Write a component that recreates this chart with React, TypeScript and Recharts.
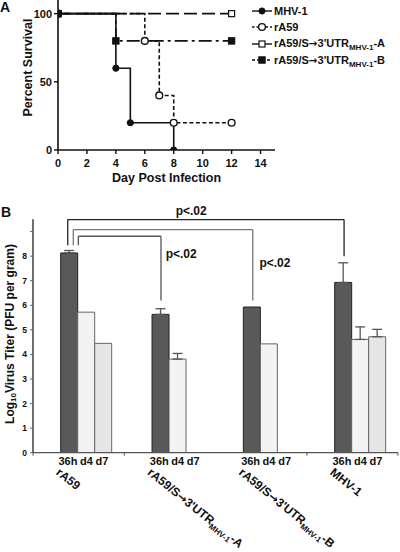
import React from 'react';
import {
  LineChart, Line, XAxis, YAxis, Legend, Label,
  BarChart, Bar, ErrorBar, ReferenceLine, ReferenceDot,
} from 'recharts';

const FONT = '"Liberation Sans", Arial, Helvetica, sans-serif';
const ARROW_FONT = '"DejaVu Sans", sans-serif';
const INK = '#111';

// ---------- Panel A: survival ----------
const dayTicks = [0, 2, 4, 6, 8, 10, 12, 14];
const percentTicks = [0, 50, 100];

const mhv1Days = [0, 4, 5, 8];
const mhv1Pct = [100, 60, 20, 0];
const rA59Days = [0, 6, 7, 8, 12];
const rA59Pct = [100, 80, 40, 20, 20];
const recADays = [0, 12];
const recAPct = [100, 100];
const recBDays = [0, 4, 12];
const recBPct = [100, 80, 80];

const seriesNames = ['MHV-1', 'rA59', "rA59/S→3'UTR_MHV-1_-A", "rA59/S→3'UTR_MHV-1_-B"];
const seriesDays = [mhv1Days, rA59Days, recADays, recBDays];
const seriesPct = [mhv1Pct, rA59Pct, recAPct, recBPct];
const seriesDash = [undefined, '4 2.5', '13 5', '13 4 3 4'];
const legendDash = [undefined, '2.5 2', undefined, '3 2'];
const seriesMarker = ['fc', 'oc', 'os', 'fs'];

const survival = seriesNames.map((name, i) => ({
  name,
  data: seriesDays[i].map((day, k) => ({ day, pct: seriesPct[i][k] })),
  dash: seriesDash[i],
  legendDash: legendDash[i],
  marker: seriesMarker[i],
}));

// ---------- Panel B: titers ----------
const groups = ['rA59', "rA59/S→3'UTR_MHV-1_-A", "rA59/S→3'UTR_MHV-1_-B", 'MHV-1'];
const timepoints = ['36h', 'd4', 'd7'];
const timepointOffsets = [-18.4, 0, 15.6];
const titer36h = [8.13, 5.63, 5.93, 6.93];
const titerD4 = [5.72, 3.81, 4.43, 4.61];
const titerD7 = [4.45, null, null, 4.72];
const err36h = [0.1, 0.23, null, 0.8];
const errD4 = [null, 0.23, null, 0.51];
const errD7 = [null, null, null, 0.3];
const log10Ticks = [0, 1, 2, 3, 4, 5, 6, 7, 8, 9];

const oneSided = (e: number | null) => (e == null ? null : [0, e]);
const titerRows = groups.map((group, i) => ({
  group,
  pos: i + 0.5,
  h36: titer36h[i],
  d4: titerD4[i],
  d7: titerD7[i],
  e36: oneSided(err36h[i]),
  e4: oneSided(errD4[i]),
  e7: oneSided(errD7[i]),
}));

// significance brackets (x in category units, y in log10 units)
const brackets = [
  { x1: 0.296, x2: 3.322, top: 9.49, end1: 8.44, end2: 8.0, color: '#222' },
  { x1: 0.357, x2: 2.322, top: 9.08, end1: 8.44, end2: 6.2, color: '#777' },
  { x1: 0.412, x2: 1.317, top: 8.81, end1: 8.44, end2: 6.2, color: '#555' },
];
const pLabels = [
  { x: 1.648, y: 9.66, text: 'p<.02' },
  { x: 2.565, y: 7.57, text: 'p<.02' },
  { x: 1.538, y: 7.91, text: 'p<.02' },
];
const boundaryTicks = [-0.084, 0.915, 2.915, 3.912];

const BAR = 17;

const splitSub = (s: string) => s.split('_');

// split a string around the arrow so the arrow can use a font with a wide glyph
const arrowParts = (s: string) => s.split(/(→)/).filter((p) => p !== '');

const SvgRun = ({ text }: { text: string }) => (
  <>
    {arrowParts(text).map((p, i) =>
      p === '→' ? (
        <tspan key={i} fontFamily={ARROW_FONT} fontSize="0.95em">{p}</tspan>
      ) : (
        <tspan key={i}>{p}</tspan>
      ),
    )}
  </>
);

const HtmlRun = ({ text }: { text: string }) => (
  <>
    {arrowParts(text).map((p, i) =>
      p === '→' ? (
        <span key={i} style={{ fontFamily: ARROW_FONT, fontSize: '0.95em' }}>{p}</span>
      ) : (
        <span key={i}>{p}</span>
      ),
    )}
  </>
);

const Marker = ({ kind, cx, cy }: { kind: string; cx: number; cy: number }) => {
  if (cx == null || cy == null) return null;
  if (kind === 'fc') return <circle cx={cx} cy={cy} r={3.1} fill={INK} stroke={INK} />;
  if (kind === 'oc') return <circle cx={cx} cy={cy} r={3.4} fill="#fff" stroke={INK} strokeWidth={1.4} />;
  if (kind === 'os') return <rect x={cx - 3} y={cy - 3} width={6} height={6} fill="#fff" stroke={INK} strokeWidth={1.2} />;
  return <rect x={cx - 3.2} y={cy - 3.2} width={6.4} height={6.4} fill={INK} stroke={INK} />;
};

const SurvivalLegend = () => (
  <div style={{ fontFamily: FONT, fontSize: 11, fontWeight: 'bold', color: INK }}>
    {survival.map((s) => {
      const parts = splitSub(s.name);
      return (
        <div key={s.name} style={{ display: 'flex', alignItems: 'center', height: 16.3, whiteSpace: 'nowrap' }}>
          <svg width={23} height={10} style={{ display: 'block' }}>
            <line x1={1} y1={5} x2={21} y2={5} stroke={INK} strokeWidth={1.4} strokeDasharray={s.legendDash} />
            <Marker kind={s.marker} cx={11} cy={5} />
          </svg>
          <span style={{ lineHeight: 1 }}>
            <HtmlRun text={parts[0]} />
            {parts[1] ? (
              <span style={{ fontSize: 8, position: 'relative', top: 3 }}>{parts[1]}</span>
            ) : null}
            {parts[2] ?? null}
          </span>
        </div>
      );
    })}
  </div>
);

const GroupTick = (props: any) => {
  const { x, y, payload } = props;
  const parts = splitSub(String(payload.value));
  return (
    <g fontFamily={FONT} fontWeight="bold" fill={INK}>
      {timepoints.map((t, i) => (
        <text key={t} x={x + timepointOffsets[i]} y={y + 12.3} textAnchor="middle" fontSize={11} fill={INK}>
          {t}
        </text>
      ))}
      <text transform={`translate(${x - 31},${y + 21}) rotate(39)`} fontSize={12} fill={INK}>
        {parts.map((p, k) =>
          k % 2 === 1 ? (
            <tspan key={k} fontSize={8} dy={3}>{p}</tspan>
          ) : (
            <tspan key={k} dy={k ? -3 : 0}>
              <SvgRun text={p} />
            </tspan>
          ),
        )}
      </text>
    </g>
  );
};

const txt = { fontFamily: FONT, fontWeight: 'bold' as const, fill: INK };

export default function App() {
  return (
    <div style={{ position: 'absolute', left: 0, top: 0, width: 400, height: 552, background: '#fff', overflow: 'hidden' }}>
      <div style={{ position: 'absolute', left: 0, top: 0, fontFamily: FONT, fontWeight: 'bold', fontSize: 14, lineHeight: '14px', color: INK }}>A</div>
      <div style={{ position: 'absolute', left: 1, top: 205, fontFamily: FONT, fontWeight: 'bold', fontSize: 14, lineHeight: '14px', color: INK }}>B</div>

      <div style={{ position: 'absolute', left: 0, top: 0 }}>
        <LineChart width={400} height={200} margin={{ top: 0, right: 125, bottom: 10, left: 28 }}>
          <XAxis
            type="number"
            dataKey="day"
            domain={[0, 15]}
            ticks={dayTicks}
            interval={0}
            allowDataOverflow
            height={40}
            tickSize={4}
            tickMargin={5}
            axisLine={{ stroke: INK, strokeWidth: 1.6 }}
            tickLine={{ stroke: INK, strokeWidth: 1.4 }}
            tick={{ fontSize: 11, ...txt }}
          >
            <Label
              content={() => (
                <text x={166.6} y={181.5} textAnchor="middle" fontSize={12.5} {...txt}>
                  Day Post Infection
                </text>
              )}
            />
          </XAxis>
          <YAxis
            type="number"
            domain={[0, 110]}
            ticks={percentTicks}
            interval={0}
            allowDataOverflow
            width={30}
            tickSize={4}
            tickMargin={2}
            axisLine={{ stroke: INK, strokeWidth: 1.6 }}
            tickLine={{ stroke: INK, strokeWidth: 1.4 }}
            tick={{ fontSize: 11, ...txt }}
          >
            <Label
              content={() => (
                <text x={28} y={67.5} transform="rotate(-90, 28, 67.5)" textAnchor="middle" dominantBaseline="central" fontSize={12.5} {...txt}>
                  Percent Survival
                </text>
              )}
            />
          </YAxis>
          {survival.map((s) => (
            <Line
              key={s.name}
              data={s.data}
              dataKey="pct"
              name={s.name}
              type="stepAfter"
              stroke={INK}
              strokeWidth={1.6}
              strokeDasharray={s.dash}
              isAnimationActive={false}
              activeDot={false}
              dot={(p: any) => <Marker key={`${s.marker}-${p.index}`} kind={s.marker} cx={p.cx} cy={p.cy} />}
            />
          ))}
          <Legend
            layout="horizontal"
            verticalAlign="middle"
            align="center"
            content={() => <SurvivalLegend />}
            wrapperStyle={{ position: 'absolute', left: 251, top: 3, width: 149, height: 70 }}
          />
        </LineChart>
      </div>

      <div style={{ position: 'absolute', left: 0, top: 200 }}>
        <BarChart
          width={400}
          height={352}
          data={titerRows}
          margin={{ top: 19.3, right: 2, bottom: 0, left: 10 }}
          barGap={0}
          barSize={BAR}
        >
          <XAxis
            dataKey="group"
            type="category"
            height={99.3}
            padding={{ left: 7.7, right: -8 }}
            interval={0}
            tickLine={false}
            tickSize={0}
            tickMargin={0}
            axisLine={{ stroke: '#555', strokeWidth: 1.3 }}
            tick={<GroupTick />}
          />
          <XAxis
            xAxisId="pos"
            dataKey="pos"
            type="number"
            domain={[0, 4]}
            allowDataOverflow
            padding={{ left: 7.7, right: -8 }}
            hide
          />
          <YAxis
            type="number"
            domain={[0, 9.5]}
            ticks={log10Ticks}
            interval={0}
            allowDataOverflow
            width={23}
            tickSize={3}
            tickMargin={3}
            tickFormatter={(v: number) => (v > 8 ? '' : String(v))}
            axisLine={{ stroke: '#222', strokeWidth: 1.3 }}
            tickLine={{ stroke: '#666', strokeWidth: 1 }}
            tick={{ fontSize: 8.5, ...txt }}
          >
            <Label
              content={() => (
                <text x={10} y={134} transform="rotate(-90, 10, 134)" textAnchor="middle" dominantBaseline="central" fontSize={12} {...txt}>
                  <tspan>Log</tspan>
                  <tspan fontSize={8} dy={3}>10</tspan>
                  <tspan dy={-3}>Virus Titer (PFU per gram)</tspan>
                </text>
              )}
            />
          </YAxis>
          <Bar dataKey="h36" fill="#595959" stroke="#222" strokeWidth={1} isAnimationActive={false}>
            <ErrorBar dataKey="e36" width={5} stroke="#555" strokeWidth={1.3} direction="y" />
          </Bar>
          <Bar dataKey="d4" fill="#f3f3f3" stroke="#666" strokeWidth={1} isAnimationActive={false}>
            <ErrorBar dataKey="e4" width={5} stroke="#555" strokeWidth={1.3} direction="y" />
          </Bar>
          <Bar dataKey="d7" fill="#e6e6e6" stroke="#666" strokeWidth={1} isAnimationActive={false}>
            <ErrorBar dataKey="e7" width={5} stroke="#555" strokeWidth={1.3} direction="y" />
          </Bar>
          {brackets.map((b, i) => [
            <ReferenceLine key={`l${i}`} xAxisId="pos" ifOverflow="visible" stroke={b.color} strokeWidth={1.3}
              segment={[{ x: b.x1, y: b.end1 }, { x: b.x1, y: b.top }]} />,
            <ReferenceLine key={`t${i}`} xAxisId="pos" ifOverflow="visible" stroke={b.color} strokeWidth={1.3}
              segment={[{ x: b.x1, y: b.top }, { x: b.x2, y: b.top }]} />,
            <ReferenceLine key={`r${i}`} xAxisId="pos" ifOverflow="visible" stroke={b.color} strokeWidth={1.3}
              segment={[{ x: b.x2, y: b.top }, { x: b.x2, y: b.end2 }]} />,
          ])}
          {boundaryTicks.map((t, i) => (
            <ReferenceLine key={`bt${i}`} xAxisId="pos" ifOverflow="visible" stroke="#555" strokeWidth={1}
              segment={[{ x: t, y: 0 }, { x: t, y: -0.12 }]} />
          ))}
          {pLabels.map((p, i) => (
            <ReferenceDot
              key={`p${i}`}
              xAxisId="pos"
              x={p.x}
              y={p.y}
              r={0}
              ifOverflow="visible"
              shape={(sp: any) => (
                <text x={sp.cx} y={sp.cy} textAnchor="middle" fontSize={12} {...txt}>
                  {p.text}
                </text>
              )}
            />
          ))}
        </BarChart>
      </div>
    </div>
  );
}
